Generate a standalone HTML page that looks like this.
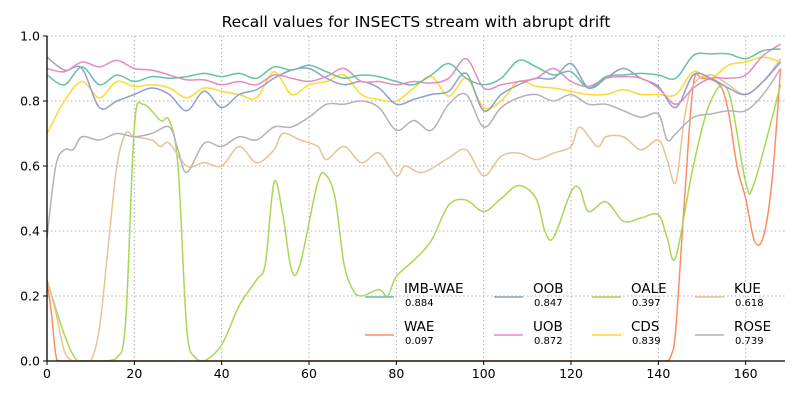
<!DOCTYPE html>
<html><head><meta charset="utf-8"><style>
body{margin:0;background:#fff}
svg text{font-family:"DejaVu Sans","Liberation Sans",sans-serif}
</style></head><body>
<svg id="chart" width="800" height="400" viewBox="0 0 800 400" xmlns="http://www.w3.org/2000/svg">
<rect width="800" height="400" fill="#fff"/>
<text x="416" y="27" font-size="15.5" text-anchor="middle">Recall values for INSECTS stream with abrupt drift</text>
<g id="grid"></g><g id="series"></g><g id="axes"></g><g id="legend"></g>
</svg>
<script>
const xTicks=[0,20,40,60,80,100,120,140,160];
const yTicks=[0.0,0.2,0.4,0.6,0.8,1.0];
const names=["IMB-WAE","WAE","OOB","UOB","OALE","CDS","KUE","ROSE"];
const finals=["0.884","0.097","0.847","0.872","0.397","0.839","0.618","0.739"];
const colors=["#66c2a5","#fc8d62","#8da0cb","#e78ac3","#a6d854","#ffd92f","#e5c494","#b3b3b3"];
const xStd=[0,4,8,12,16,20,24,28,32,36,40,44,48,52,56,60,64,68,72,76,80,84,88,92,96,100,104,108,112,116,120,124,128,132,136,140,144,148,152,156,160,164,168];
const imbY=[0.88,0.85,0.905,0.85,0.88,0.86,0.875,0.87,0.875,0.885,0.875,0.885,0.87,0.905,0.895,0.91,0.89,0.87,0.88,0.875,0.86,0.85,0.88,0.915,0.87,0.85,0.87,0.925,0.905,0.88,0.89,0.84,0.875,0.88,0.885,0.88,0.87,0.94,0.945,0.945,0.93,0.955,0.96];
const waeX=[0,1,2,3,10,20,40,60,80,100,120,140,142,143,144,146,148,150,154,156,158,160,162,164,166,168];
const waeY=[0.24,0.15,0.02,0.0,0.0,0.0,0.0,0.0,0.0,0.0,0.0,0.0,0.0,0.02,0.1,0.5,0.85,0.87,0.85,0.77,0.6,0.5,0.37,0.38,0.55,0.9];
const oobY=[0.935,0.895,0.9,0.78,0.8,0.82,0.84,0.82,0.77,0.83,0.78,0.82,0.835,0.87,0.895,0.9,0.87,0.85,0.86,0.84,0.79,0.805,0.82,0.83,0.885,0.77,0.82,0.85,0.87,0.87,0.915,0.84,0.87,0.9,0.87,0.845,0.78,0.88,0.87,0.84,0.82,0.86,0.92];
const uobY=[0.9,0.89,0.92,0.905,0.925,0.9,0.895,0.88,0.865,0.865,0.85,0.86,0.85,0.88,0.87,0.86,0.875,0.9,0.86,0.86,0.85,0.86,0.855,0.87,0.93,0.84,0.85,0.86,0.87,0.9,0.86,0.845,0.87,0.875,0.87,0.84,0.79,0.84,0.87,0.87,0.88,0.94,0.975];
const oaleX=[0,4,7,10,13,16,18,20,22,26,28,30,32,34,36,40,44,48,50,52,54,56,58,62,64,66,68,70,72,76,78,80,84,88,92,96,100,104,108,112,114,116,120,122,124,128,132,136,140,142,144,148,152,156,160,162,168];
const oaleY=[0.25,0.08,0.0,0.0,0.0,0.01,0.12,0.72,0.79,0.74,0.74,0.6,0.1,0.01,0.0,0.05,0.17,0.25,0.3,0.55,0.45,0.28,0.3,0.55,0.57,0.5,0.3,0.22,0.2,0.22,0.2,0.26,0.31,0.37,0.48,0.495,0.46,0.5,0.54,0.5,0.4,0.38,0.52,0.53,0.46,0.49,0.43,0.44,0.45,0.38,0.32,0.6,0.8,0.83,0.55,0.55,0.85];
const cdsY=[0.7,0.8,0.86,0.81,0.86,0.845,0.85,0.84,0.81,0.84,0.83,0.82,0.81,0.89,0.82,0.85,0.86,0.88,0.82,0.805,0.8,0.84,0.875,0.815,0.87,0.78,0.8,0.86,0.845,0.84,0.83,0.82,0.82,0.835,0.82,0.82,0.82,0.89,0.87,0.91,0.92,0.935,0.92];
const kueX=[0,2,4,6,8,10,12,14,16,18,20,24,26,28,32,36,40,44,48,52,54,58,62,64,68,72,76,80,82,86,92,96,100,104,108,112,116,120,122,126,128,132,136,140,142,144,146,148,152,156,160,164,168];
const kueY=[0.25,0.15,0.03,0.0,0.0,0.0,0.1,0.35,0.6,0.7,0.69,0.68,0.66,0.67,0.6,0.61,0.6,0.66,0.61,0.65,0.7,0.68,0.66,0.62,0.66,0.61,0.64,0.57,0.6,0.58,0.625,0.65,0.57,0.63,0.64,0.62,0.64,0.66,0.72,0.66,0.69,0.69,0.65,0.68,0.62,0.55,0.75,0.85,0.88,0.85,0.82,0.86,0.93];
const roseX=[0,2,4,6,8,12,16,20,24,28,30,32,36,40,44,48,52,56,60,64,68,72,76,80,84,88,92,96,100,104,108,112,116,120,124,128,132,136,140,142,144,148,152,156,160,164,168];
const roseY=[0.38,0.6,0.65,0.65,0.69,0.68,0.7,0.69,0.7,0.72,0.65,0.58,0.67,0.66,0.69,0.68,0.72,0.72,0.75,0.79,0.79,0.8,0.78,0.71,0.74,0.71,0.79,0.82,0.72,0.78,0.81,0.82,0.8,0.82,0.79,0.79,0.77,0.75,0.76,0.68,0.7,0.75,0.76,0.77,0.77,0.82,0.9];

const X0=47,X1=785,Y0=361,Y1=36,XMAX=169;
const sx=v=>X0+v*(X1-X0)/XMAX, sy=v=>Y0-v*(Y0-Y1);
const NS="http://www.w3.org/2000/svg";
function mk(tag,attrs,parent){const e=document.createElementNS(NS,tag);for(const k in attrs)e.setAttribute(k,attrs[k]);parent.appendChild(e);return e;}
const grid=document.getElementById('grid'),axes=document.getElementById('axes'),ser=document.getElementById('series'),leg=document.getElementById('legend');
xTicks.forEach(t=>{
 const l=mk('line',{x1:sx(t),x2:sx(t),y1:Y1,y2:Y0,stroke:'#b0b0b0','stroke-dasharray':'1.5,2.5','stroke-width':1},grid);
 
 mk('line',{x1:sx(t),x2:sx(t),y1:Y0,y2:Y0+4,stroke:'#000'},axes);
 const tx=mk('text',{x:sx(t),y:Y0+17,'font-size':12.5,'text-anchor':'middle'},axes);tx.textContent=t;
 
});
yTicks.forEach(t=>{
 const l=mk('line',{x1:X0,x2:X1,y1:sy(t),y2:sy(t),stroke:'#b0b0b0','stroke-dasharray':'1.5,2.5','stroke-width':1},grid);
 
 mk('line',{x1:X0-4,x2:X0,y1:sy(t),y2:sy(t),stroke:'#000'},axes);
 const tx=mk('text',{x:X0-7,y:sy(t)+4.5,'font-size':12.5,'text-anchor':'end'},axes);tx.textContent=t.toFixed(1);
 
});
const ax=mk('path',{d:`M${X0},${Y1}V${Y0}H${X1}`,stroke:'#000',fill:'none','stroke-width':1.3},axes);

const clampX=(v,a,b)=>Math.max(a,Math.min(b,v));
function smooth(xs,ys){
 const p=xs.map((x,i)=>[sx(x),sy(ys[i])]);let d=`M${p[0][0]},${p[0][1]}`;
 for(let i=0;i<p.length-1;i++){const a=p[Math.max(0,i-1)],b=p[i],c=p[i+1],e=p[Math.min(p.length-1,i+2)];
  let c1=[b[0]+(c[0]-a[0])/6,b[1]+(c[1]-a[1])/6],c2=[c[0]-(e[0]-b[0])/6,c[1]-(e[1]-b[1])/6];
  c1[0]=clampX(c1[0],b[0],c[0]);c2[0]=clampX(c2[0],b[0],c[0]);
  c1[1]=Math.min(Y0,c1[1]);c2[1]=Math.min(Y0,c2[1]);
  d+=`C${c1[0]},${c1[1]} ${c2[0]},${c2[1]} ${c[0]},${c[1]}`;}
 return d;}
const data=[[xStd,imbY],[waeX,waeY],[xStd,oobY],[xStd,uobY],[oaleX,oaleY],[xStd,cdsY],[kueX,kueY],[roseX,roseY]];
const order=[1,4,6,7,5,2,3,0];
order.forEach(i=>{
 const p=mk('path',{d:smooth(data[i][0],data[i][1]),stroke:colors[i],fill:'none','stroke-width':1.5},ser);
 
});
const colX=[365,494,592,695],rowY=[297,335];
names.forEach((n,i)=>{
 const c=Math.floor(i/2),r=i%2,x=colX[c],y=rowY[r];
 const g=mk('g',{},leg);
 mk('line',{x1:x,x2:x+29,y1:y,y2:y,stroke:colors[i],'stroke-width':1.5},g);
 const t=mk('text',{x:x+39,y:y-4,'font-size':13.5},g);t.textContent=n;
 const v=mk('text',{x:x+40,y:y+9,'font-size':10},g);v.textContent=finals[i];
});
</script>
</body></html>
